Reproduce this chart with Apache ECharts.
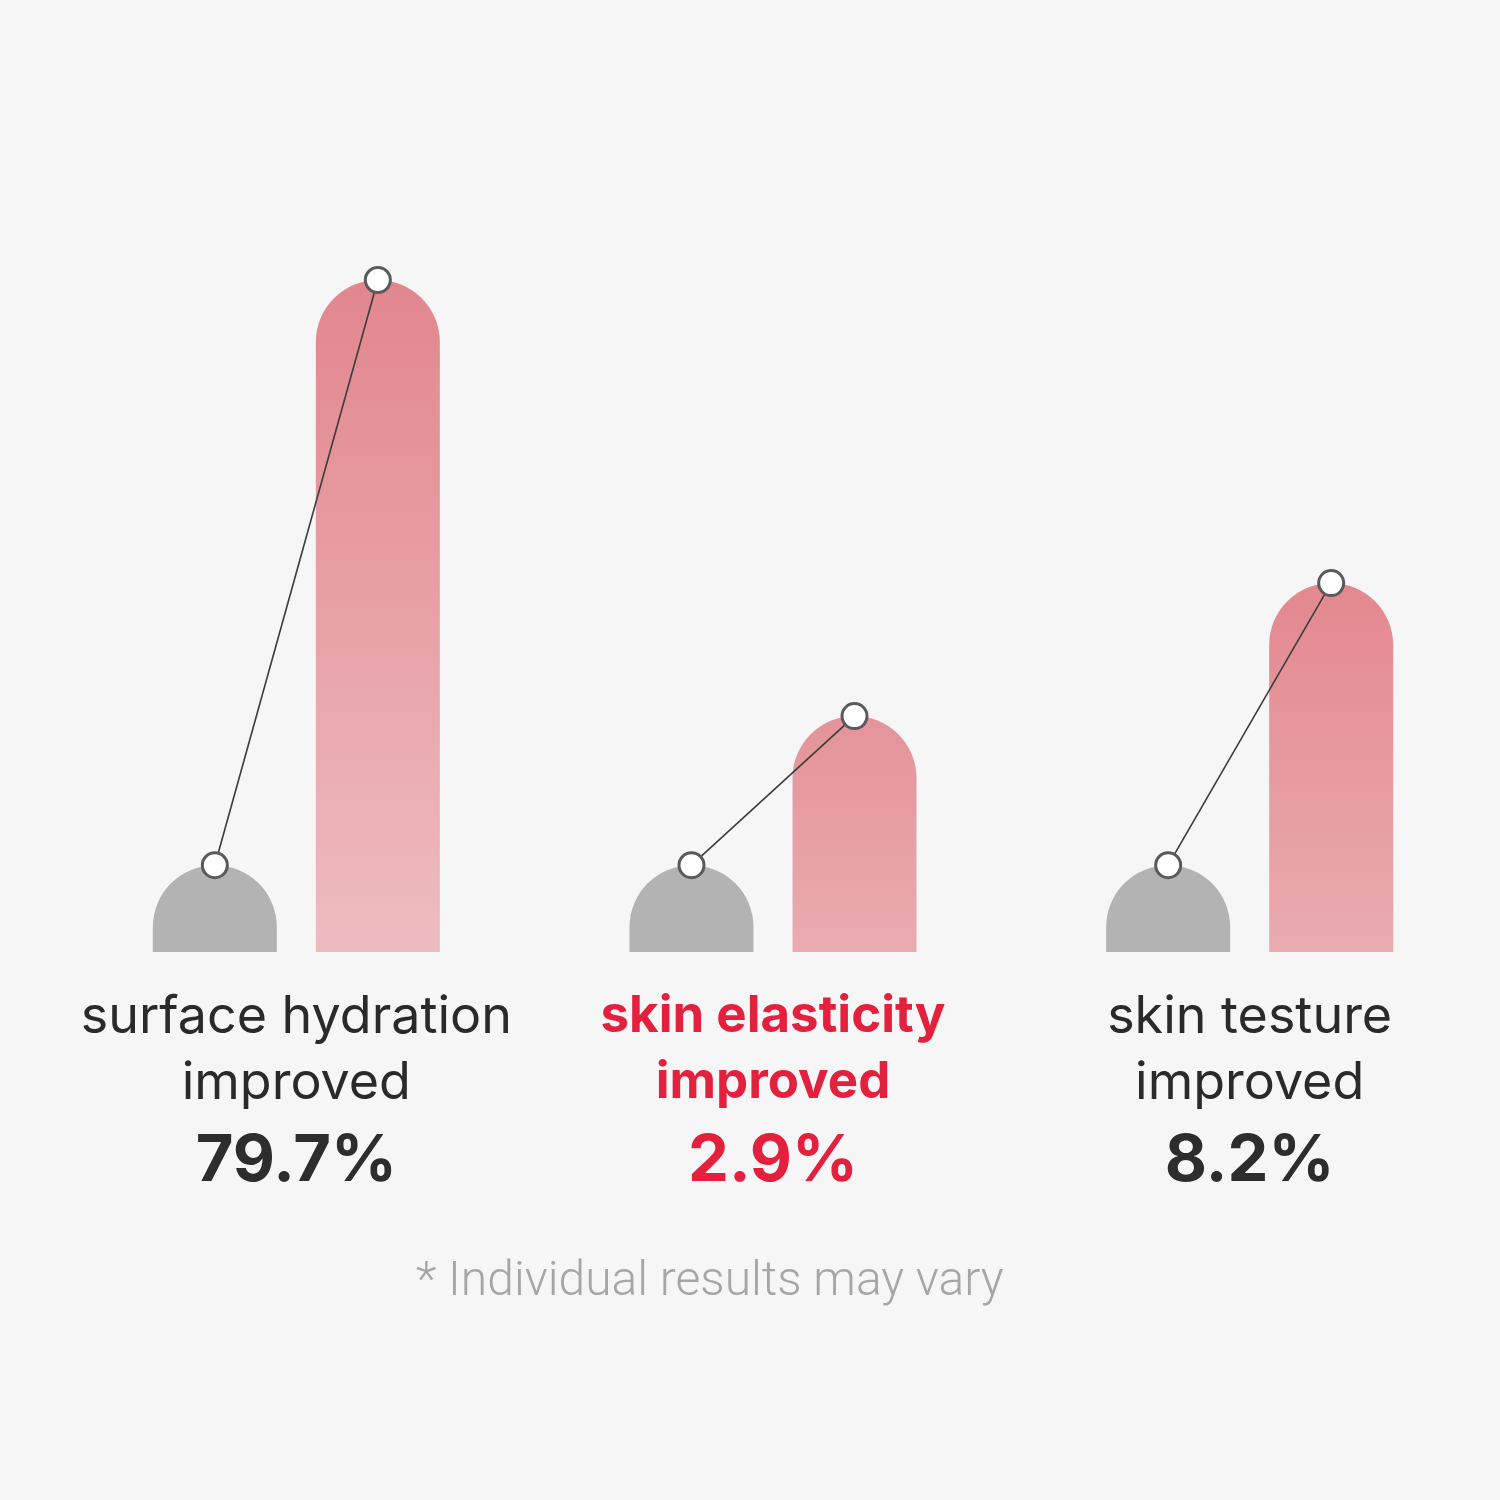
<!DOCTYPE html>
<html>
<head>
<meta charset="utf-8">
<script src="https://cdn.jsdelivr.net/npm/echarts@6/dist/echarts.min.js"></script>
<style>
  html, body { margin: 0; padding: 0; background: #f6f6f6; }
  #chart { width: 1500px; height: 1500px; }
</style>
</head>
<body>
<div id="chart"></div>
<script>
// ---- data ----
const categories = ['surface hydration\nimproved', 'skin elasticity\nimproved', 'skin testure\nimproved'];
const improvements = ['79.7%', '2.9%', '8.2%'];
const beforeValues = [12.4, 12.4, 12.4];
const afterValues = [96, 33.7, 52.7];
const highlightIndex = 1;
const footnote = '* Individual results may vary';

// ---- styles ----
const afterGradients = [
  ['#e2868e', '#edbcc0'],
  ['#e4939a', '#eaabb0'],
  ['#e3888f', '#e9abb0']
];
const BAR_W = 124, BAR_GAP_PX = 39;
const OFF = (BAR_W + BAR_GAP_PX) / 2;

const chart = echarts.init(document.getElementById('chart'), null, { renderer: 'canvas' });

const option = {
  backgroundColor: '#f6f6f6',
  animation: false,
  grid: { left: 58, right: 12, top: 252, bottom: 548, containLabel: false },
  xAxis: {
    type: 'category',
    data: categories,
    axisLine: { show: false },
    axisTick: { show: false },
    splitLine: { show: false },
    axisLabel: {
      interval: 0,
      margin: 32,
      formatter: function (value, index) {
        const lines = value.split('\n');
        const n = index === highlightIndex ? 'nr' : 'n';
        const v = index === highlightIndex ? 'vr' : 'v';
        return lines.map(l => '{' + n + '|' + l + '}').join('\n') + '\n{' + v + '|' + improvements[index] + '}';
      },
      rich: {
        n: { fontFamily: 'Inter', fontSize: 52, color: '#2a2a2a', lineHeight: 66, align: 'center' },
        nr: { fontFamily: 'Inter', fontSize: 51, fontWeight: 'bold', color: '#e3213f', lineHeight: 66, align: 'center' },
        v: { fontFamily: 'Inter', fontSize: 65, fontWeight: 'bold', color: '#2d2d2d', lineHeight: 90, align: 'center' },
        vr: { fontFamily: 'Inter', fontSize: 65, fontWeight: 'bold', color: '#e3213f', lineHeight: 90, align: 'center' }
      }
    }
  },
  yAxis: {
    type: 'value', min: 0, max: 100, show: false,
    splitLine: { show: false }
  },
  series: [
    {
      name: 'before', type: 'bar', silent: true,
      barWidth: BAR_W, barGap: (BAR_GAP_PX / BAR_W * 100).toFixed(2) + '%',
      itemStyle: { color: '#b3b3b3', borderRadius: [62, 62, 0, 0] },
      data: beforeValues
    },
    {
      name: 'after', type: 'bar', silent: true,
      barWidth: BAR_W,
      data: afterValues.map((v, i) => ({
        value: v,
        itemStyle: {
          borderRadius: [62, 62, 0, 0],
          color: new echarts.graphic.LinearGradient(0, 0, 0, 1, [
            { offset: 0, color: afterGradients[i][0] },
            { offset: 1, color: afterGradients[i][1] }
          ])
        }
      }))
    },
    {
      name: 'connector', type: 'custom', silent: true, z: 10,
      data: categories.map((c, i) => [i, beforeValues[i], afterValues[i]]),
      encode: { x: 0, y: [1, 2] },
      renderItem: function (params, api) {
        const i = api.value(0);
        const p0 = api.coord([i, api.value(1)]);
        const p1 = api.coord([i, api.value(2)]);
        const ax = p0[0] - OFF, ay = p0[1];
        const bx = p1[0] + OFF, by = p1[1];
        return {
          type: 'group',
          children: [
            { type: 'line', shape: { x1: ax, y1: ay, x2: bx, y2: by }, style: { stroke: '#3c3c3c', lineWidth: 1.6 } },
            { type: 'circle', shape: { cx: ax, cy: ay, r: 12.5 }, style: { fill: '#ffffff', stroke: '#5a5a5a', lineWidth: 3 } },
            { type: 'circle', shape: { cx: bx, cy: by, r: 12.5 }, style: { fill: '#ffffff', stroke: '#5a5a5a', lineWidth: 3 } }
          ]
        };
      }
    }
  ],
  graphic: [
    {
      type: 'text', left: 416, top: 1259,
      style: { text: footnote, fontFamily: 'Roboto', fontWeight: 300, fontSize: 48, fill: '#a6a6a6' }
    }
  ]
};
chart.setOption(option);
</script>
</body>
</html>
